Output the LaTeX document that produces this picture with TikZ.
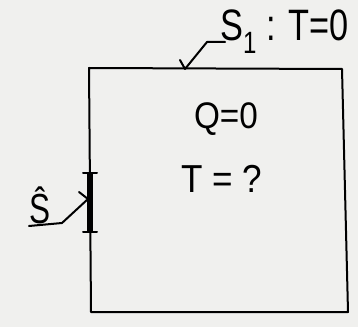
\documentclass[tikz,border=0pt]{standalone}
\usepackage{fontspec}
\setmainfont{Liberation Sans}
\definecolor{paper}{RGB}{240,240,238}
\begin{document}
\begin{tikzpicture}[x=1pt,y=1pt,
  ink/.style={line width=2pt,line cap=round,line join=round},
  lbl/.style={inner sep=0pt,font=\fontsize{37}{42}\selectfont}]
\fill[paper] (0,0) rectangle (358,327);
\useasboundingbox (0,0) rectangle (358,327);
% box corners
\coordinate (tl) at (89,259);
\coordinate (tr) at (342,258);
\coordinate (br) at (348,15);
\coordinate (bl) at (91,15);
\draw[ink] (tl) -- (tr) -- (br) -- (bl) -- cycle;
% thick wall segment
\coordinate (bartop) at (90,154);
\coordinate (barbot) at (90,95);
\draw[line width=6pt] (bartop) -- (barbot);
\draw[ink] ([xshift=-7pt]bartop) -- ([xshift=7pt]bartop);
\draw[ink] ([xshift=-7pt]barbot) -- ([xshift=7pt]barbot);
% labels
\node[lbl,anchor=base west,font=\fontsize{44}{48}\selectfont] (s1label) at (220,286) {\scalebox{0.78}[1]{S\textsubscript{1} : T=0}};
\node[lbl,anchor=base] (qlabel) at (226,199) {\scalebox{0.9}[1]{Q=0}};
\node[lbl,anchor=base,font=\fontsize{39}{42}\selectfont] (tlabel) at (222,135) {\scalebox{0.9}[1]{T = ?}};
\node[lbl,anchor=base,font=\fontsize{42}{46}\selectfont] (shatlabel) at (40,104) {\scalebox{0.75}[1]{\^{S}}};
% S1 leader
\coordinate (s1a) at (225,285);
\coordinate (s1b) at (207,285);
\coordinate (s1c) at (185,258);
\coordinate (s1d) at (180,267);
\draw[ink] (s1a) -- (s1b) -- (s1c) -- (s1d);
% S-hat leader
\coordinate (sha) at (29,101);
\coordinate (shb) at (62,104);
\coordinate (shc) at (88,128);
\coordinate (shd) at (79,135);
\draw[ink] (sha) -- (shb) -- (shc) -- (shd);
\end{tikzpicture}
\end{document}
